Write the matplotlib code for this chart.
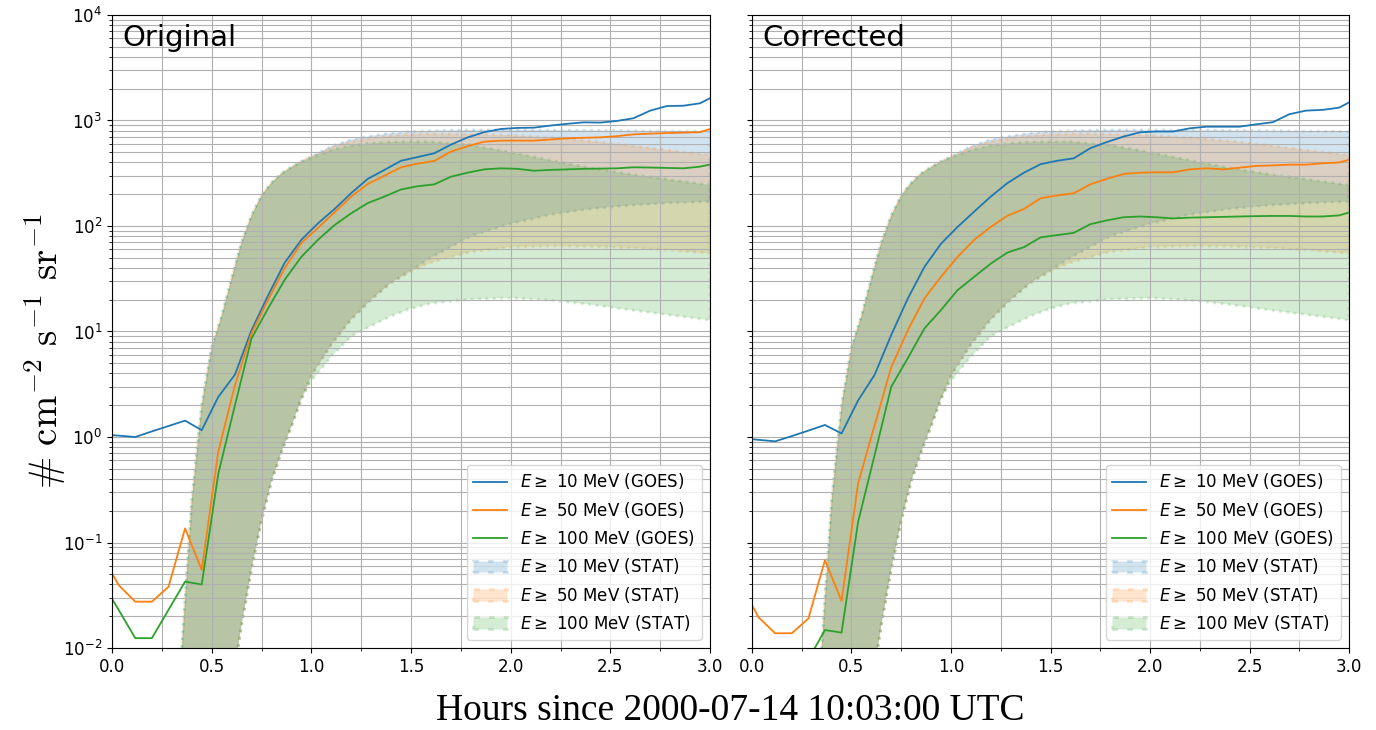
import numpy as np
import matplotlib
matplotlib.use("Agg")
import matplotlib.pyplot as plt
from matplotlib.ticker import MultipleLocator

# GOES samples every 5 min starting 10:00 (t=0 is 10:03)
t_goes = (np.arange(38) * 5 - 3) / 60.0

orig_10 = [1.06, 1.03, 1.00, 1.13, 1.27, 1.43, 1.16, 2.4, 3.9, 10.3,
           22, 45, 74, 106, 145, 205, 280, 340, 415, 450,
           489, 590, 690, 775, 830, 850, 855, 895, 930, 960,
           955, 990, 1050, 1240, 1370, 1380, 1455, 1750]
orig_50 = [0.075, 0.0395, 0.0275, 0.0275, 0.038, 0.136, 0.055, 0.73, 3.1, 9.6,
           20, 40, 69, 96, 135, 190, 250, 300, 360, 390,
           413, 506, 570, 629, 644, 644, 644, 660, 678, 685,
           692, 710, 739, 750, 760, 766, 775, 870]
orig_100 = [0.042, 0.023, 0.0124, 0.0124, 0.023, 0.0426, 0.040, 0.45, 2.0, 8.6,
            16.6, 31, 51, 74, 102, 132, 165, 190, 222, 238,
            248, 293, 320, 344, 352, 348, 334, 340, 344, 348,
            350, 352, 360, 358, 355, 352, 365, 395]

corr_10 = [0.97, 0.94, 0.91, 1.02, 1.15, 1.30, 1.08, 2.22, 3.9, 9.3,
           20.6, 41, 68, 98, 137, 190, 255, 320, 385, 415,
           438, 546, 625, 703, 773, 786, 786, 843, 873, 873,
           873, 920, 962, 1146, 1240, 1260, 1322, 1600]
corr_50 = [0.038, 0.0195, 0.0138, 0.0138, 0.019, 0.068, 0.0279, 0.364, 1.3, 4.6,
           10.3, 20.6, 33, 51, 74, 98, 125, 145, 183, 195,
           204, 248, 280, 311, 320, 323, 323, 344, 352, 344,
           357, 371, 375, 381, 381, 393, 400, 440]
corr_100 = [0.009, 0.006, 0.0043, 0.0043, 0.0078, 0.0148, 0.014, 0.157, 0.68, 3.0,
            5.6, 10.7, 16, 24.7, 33, 44, 56, 63, 78, 82,
            86, 104, 113, 121, 123, 121, 118, 120, 121, 122,
            123, 124, 124.5, 124.5, 123, 123, 126, 140]

# STAT model envelopes (same in both panels)
t_stat = [0.30, 0.35, 0.40, 0.45, 0.50, 0.55, 0.60, 0.65, 0.70, 0.75,
          0.80, 0.85, 0.90, 0.95, 1.00, 1.10, 1.20, 1.30, 1.40, 1.50,
          1.60, 1.80, 2.00, 2.20, 2.40, 2.60, 2.80, 3.00]
hi_10 = [5e-4, 0.01, 0.25, 2.0, 7.1, 14, 32, 70, 126, 195,
         257, 315, 363, 412, 457, 570, 660, 715, 760, 785,
         800, 815, 815, 810, 805, 800, 792, 785]
lo_10 = [1e-8, 1e-7, 1e-6, 1e-5, 1e-4, 5e-4, 0.004, 0.0166, 0.056, 0.16,
         0.38, 0.72, 1.26, 2.3, 3.8, 7.5, 13, 20, 29, 38,
         50, 80, 105, 128, 145, 157, 165, 170]
hi_50 = [5e-4, 0.01, 0.25, 2.0, 7.1, 14, 32, 70, 126, 195,
         257, 315, 363, 412, 455, 555, 630, 685, 720, 740,
         750, 745, 725, 690, 640, 580, 520, 471]
lo_50 = [1e-8, 1e-7, 1e-6, 1e-5, 1e-4, 5e-4, 0.004, 0.0166, 0.056, 0.16,
         0.38, 0.72, 1.26, 2.3, 3.8, 7.5, 13, 20, 29, 37,
         45, 57, 63, 64.5, 64, 62, 59, 55]
hi_100 = [5e-4, 0.01, 0.25, 2.0, 7.1, 14, 32, 70, 126, 195,
          257, 315, 360, 405, 445, 525, 580, 610, 625, 630,
          630, 585, 500, 420, 355, 310, 275, 245]
lo_100 = [1e-8, 1e-7, 1e-6, 1e-5, 1e-4, 5e-4, 0.004, 0.0166, 0.056, 0.16,
          0.38, 0.72, 1.26, 2.3, 3.4, 5.8, 9, 11.3, 14, 16.5,
          18.5, 20.2, 20.8, 19.8, 18, 16, 14.3, 12.8]

energies = ["10", "50", "100"]
colors = ["C0", "C1", "C2"]
panels = [("Original", [orig_10, orig_50, orig_100]),
          ("Corrected", [corr_10, corr_50, corr_100])]
bands = [(lo_10, hi_10), (lo_50, hi_50), (lo_100, hi_100)]

fig = plt.figure(figsize=(13.76, 7.3), dpi=100)
ax1 = fig.add_axes([0.0814, 0.1123, 0.4346, 0.8672])
ax2 = fig.add_axes([0.5465, 0.1123, 0.4339, 0.8672], sharey=ax1)

for ax, (title, series) in zip([ax1, ax2], panels):
    line_h = []
    band_h = []
    for (lo, hi), c, e in zip(bands, colors, energies):
        h = ax.fill_between(t_stat, lo, hi, color=c, alpha=0.2,
                            linestyle=":", linewidth=2,
                            label=r"$E\geq$ %s MeV (STAT)" % e)
        band_h.append(h)
    for ys, c, e in zip(series, colors, energies):
        l, = ax.plot(t_goes, ys, color=c, lw=1.3,
                     label=r"$E\geq$ %s MeV (GOES)" % e)
        line_h.append(l)
    ax.set_yscale("log")
    ax.set_ylim(1e-2, 1e4)
    ax.set_xlim(0, 3.0)
    ax.xaxis.set_major_locator(MultipleLocator(0.5))
    ax.xaxis.set_minor_locator(MultipleLocator(0.25))
    ax.grid(True, which="both", color="#b0b0b0", lw=0.8)
    ax.tick_params(labelsize=12)
    ax.text(0.017, 0.985, title, transform=ax.transAxes, fontsize=21,
            va="top", ha="left")
    ax.legend(handles=line_h + band_h, loc="lower right", fontsize=12)

ax2.tick_params(labelleft=False)

fig.text(0.033, 0.52, r"$\#\ \mathrm{cm}^{-2}\ \mathrm{s}^{-1}\ \mathrm{sr}^{-1}$",
         rotation=90, ha="center", va="center", fontsize=28,
         math_fontfamily="cm")
fig.text(0.531, 0.026, "Hours since 2000-07-14 10:03:00 UTC",
         ha="center", va="center", fontsize=27, family="Liberation Serif")

fig.savefig("out.png", dpi=100)
